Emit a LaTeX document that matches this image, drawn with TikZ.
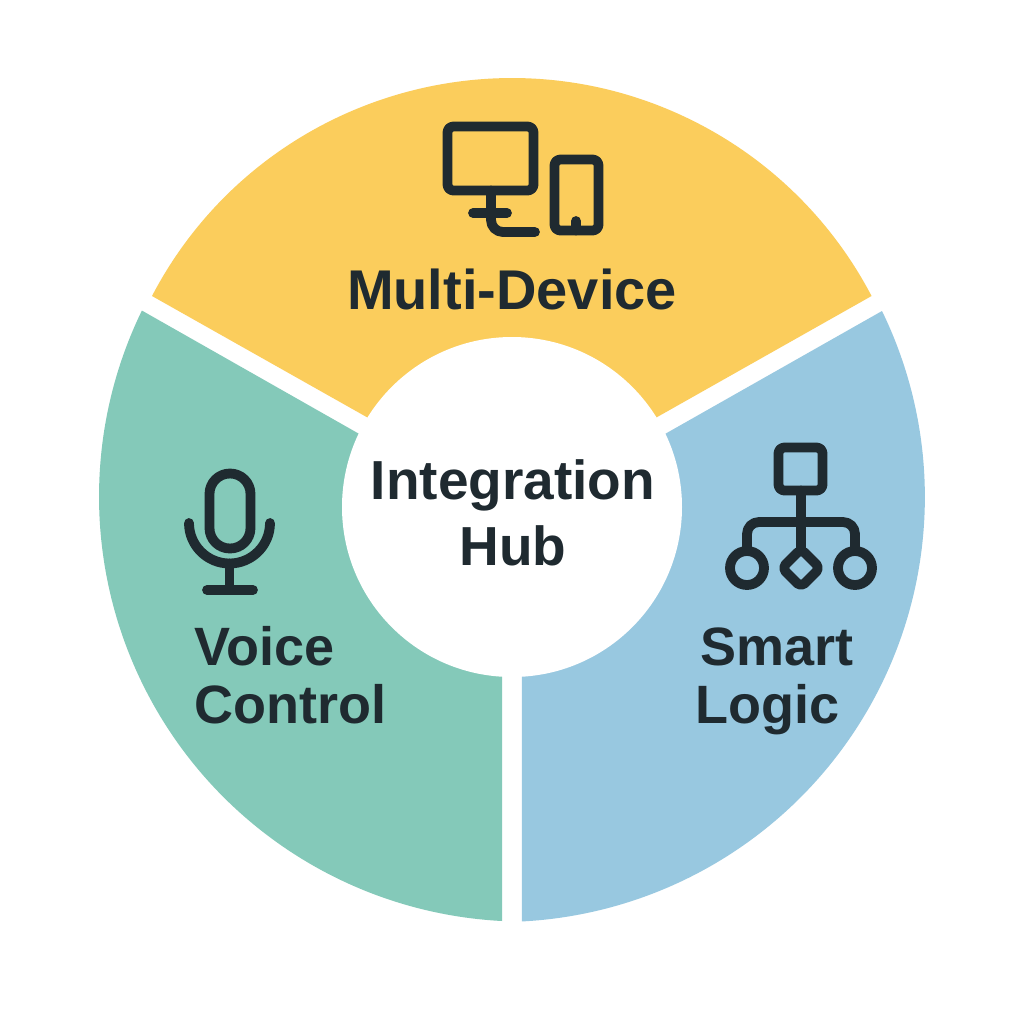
\documentclass[tikz,border=0pt]{standalone}
\usepackage{fontspec}
\setmainfont{Liberation Sans}
\definecolor{ink}{HTML}{1F2A30}
\definecolor{sunny}{HTML}{FBCD5C}
\definecolor{mint}{HTML}{84C9B9}
\definecolor{sky}{HTML}{98C8E0}
\tikzset{
  iconline/.style={draw=ink,line width=4.9pt,line cap=round,line join=round},
  label/.style={text=ink,font=\fontsize{27}{29}\selectfont\bfseries,inner sep=0pt},
}
\begin{document}
\begin{tikzpicture}[x=0.5pt,y=-0.5pt]
\useasboundingbox (0,0) rectangle (1024,1024);
\fill[white] (0,0) rectangle (1024,1024);
% sectors
\fill[sunny] (512,499) -- (152,296) arc[start angle=207.6,end angle=332.4,radius=406] -- cycle;
\fill[sky] (522,515) -- (882,311) arc[start angle=-25.96,end angle=87.03,radius=425] -- cycle;
\fill[mint] (502,515) -- (502,921) arc[start angle=92.97,end angle=205.96,radius=425] -- cycle;
\node[circle,fill=white,minimum size=170pt,inner sep=0pt] (hub) at (512,507) {};
% monitor + tablet
\draw[iconline,rounded corners=3pt] (447.5,126.5) rectangle (533.5,190.5);
\draw[iconline,rounded corners=6pt] (491,190.5) -- (491,232) -- (535,232);
\draw[iconline] (473,213) -- (507,213);
\draw[iconline,rounded corners=3pt] (554.5,159.5) rectangle (598.5,230.5);
\draw[iconline] (576,230.5) -- (576,221);
% microphone
\draw[iconline,rounded corners=10.2pt] (209.5,473.5) rectangle (250.5,548.5);
\draw[iconline] (189,523) arc[start angle=180,end angle=0,radius=40.5];
\draw[iconline] (229.5,563.5) -- (229.5,590);
\draw[iconline] (207,590) -- (253,590);
% hierarchy
\draw[iconline,rounded corners=3pt] (778.5,447.5) rectangle (822.5,490.5);
\draw[iconline] (801,490.5) -- (801,549);
\draw[iconline,rounded corners=6pt] (747,551) -- (747,522) -- (855,522) -- (855,551);
\draw[iconline] (747,568) circle[radius=17];
\draw[iconline] (855,568) circle[radius=17];
\draw[iconline,rounded corners=2.5pt] (801,549) -- (820,568) -- (801,587) -- (782,568) -- cycle;
% labels
\node[label,font=\fontsize{28}{29}\selectfont\bfseries] (multi) at (512,289) {Multi-Device};
\node[label,align=center,font=\fontsize{27.5}{33}\selectfont\bfseries] (hubtext) at (513,513) {Integration\\Hub};
\node[label,align=left] (voice) at (290.5,675) {Voice\\Control};
\node[label,align=left] (smart) at (774.5,681) {\hspace*{2.5pt}Smart\\Logic};
\end{tikzpicture}
\end{document}
